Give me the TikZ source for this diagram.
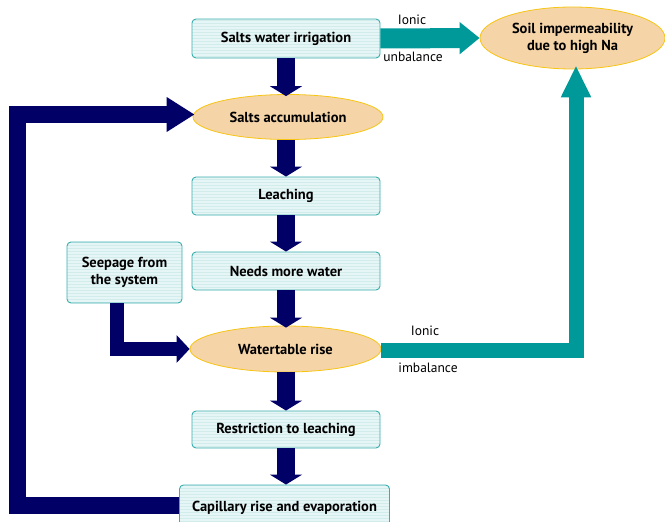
\documentclass[tikz,border=0pt]{standalone}
\usepackage{fontspec}
\setmainfont{PT Sans}
\usetikzlibrary{arrows.meta,shapes.geometric,patterns}
\definecolor{navyc}{HTML}{000066}
\definecolor{tealc}{HTML}{009999}
\definecolor{boxfill}{HTML}{E6F5F5}
\definecolor{boxline}{HTML}{3AAEAE}
\definecolor{boxpat}{HTML}{D2ECEC}
\definecolor{ellfill}{HTML}{F5D4A8}
\definecolor{ellline}{HTML}{F7C512}
\tikzset{
  stepbox/.style={rectangle, rounded corners=4pt, draw=boxline, line width=0.9pt,
    preaction={fill=boxfill}, pattern=horizontal lines, pattern color=boxpat,
    font=\fontsize{14.5}{17}\selectfont\bfseries, align=center, inner sep=0pt},
  ellbox/.style={ellipse, draw=ellline, line width=0.8pt, fill=ellfill,
    font=\fontsize{14.5}{17}\selectfont\bfseries, align=center, inner sep=0pt},
  navyarrow/.style={draw=navyc, line width=18pt, line join=miter,
    -{Triangle[width=32pt,length=10pt]}},
  lbl/.style={font=\fontsize{13.5}{15}\selectfont, inner sep=0pt}
}
\begin{document}
\begin{tikzpicture}[x=1pt,y=-1pt]
\useasboundingbox (0,0) rectangle (665,522);
\clip (0,0) rectangle (665,522);
% nodes
\node[stepbox, minimum width=188pt, minimum height=39pt] (irr) at (286,38.5) {Salts water irrigation};
\node[ellbox, minimum width=190pt, minimum height=45pt] (acc) at (288,117) {Salts accumulation};
\node[stepbox, minimum width=188pt, minimum height=38pt] (leach) at (286,196) {Leaching};
\node[stepbox, minimum width=188pt, minimum height=38pt] (needs) at (286,271) {Needs more water};
\node[stepbox, minimum width=115pt, minimum height=61pt] (seep) at (124.5,272.5) {Seepage from\\the system};
\node[ellbox, minimum width=191pt, minimum height=46pt] (wt) at (285.5,349) {Watertable rise};
\node[stepbox, minimum width=188pt, minimum height=37pt] (restr) at (286,429.5) {Restriction to leaching};
\node[stepbox, minimum width=210pt, minimum height=42pt, text depth=0pt] (cap) at (284.5,506) {\raisebox{-1pt}{Capillary rise and evaporation}};
\node[ellbox, minimum width=185pt, minimum height=62pt] (soil) at (572.5,38) {Soil impermeability\\due to high Na};
\coordinate (loopc) at (17.5,114.5);
% navy vertical arrows
\draw[navyarrow] (irr.south) -- ([yshift=-2pt]irr.south |- acc.north);
\draw[navyarrow] (irr.south |- acc.south) -- (leach.north);
\draw[navyarrow] (leach.south) -- (needs.north);
\draw[navyarrow] (needs.south) -- ([yshift=-2pt]needs.south |- wt.north);
\draw[navyarrow] (needs.south |- wt.south) -- (restr.north);
\draw[navyarrow] (restr.south) -- (restr.south |- cap.north);
% seepage arrow
\draw[draw=navyc, line width=14pt, line join=miter, -{Triangle[width=27pt,length=13pt]}]
  ([xshift=-7.5pt]seep.south) |- (wt.west);
% loop arrow
\draw[draw=navyc, line width=17pt, line join=miter, -{Triangle[width=33pt,length=28pt]}]
  ([yshift=1pt]cap.west) -| (loopc) -- ([xshift=2pt]acc.west |- loopc);
% teal arrows
\draw[draw=tealc, line width=20pt, -{Triangle[width=31pt,length=20pt]}]
  (irr.east) -- (soil.west);
\draw[draw=tealc, line width=15pt, line join=miter, -{Triangle[width=28pt,length=32pt]}]
  ([yshift=-1pt]wt.east) -| ([xshift=3.5pt,yshift=4pt]soil.south);
% labels
\node[lbl] (l1) at (412,20) {Ionic};
\node[lbl] (l2) at (413,57) {unbalance};
\node[lbl] (l3) at (425,331) {Ionic};
\node[lbl] (l4) at (428,368) {imbalance};
\end{tikzpicture}
\end{document}
